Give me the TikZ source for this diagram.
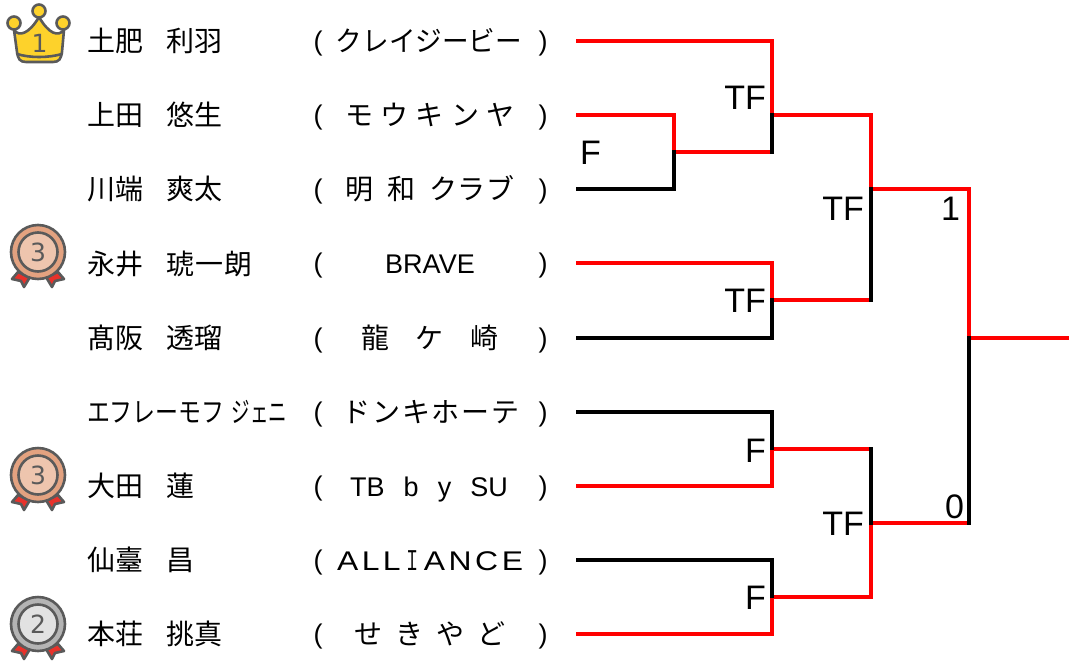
\documentclass[tikz,border=0pt]{standalone}
\usepackage{fontspec}
\usepackage{graphicx}
\setmainfont{Liberation Sans}
\newfontfamily\jp{Noto Sans CJK JP}
\newfontfamily\digitfont{DejaVu Sans}
\usetikzlibrary{calc}
\definecolor{outl}{HTML}{5A5A5A}
\definecolor{gold}{HTML}{FDD22B}
\definecolor{bronzeA}{HTML}{E3A280}
\definecolor{bronzeB}{HTML}{EEC5AE}
\definecolor{silverA}{HTML}{B4B4B4}
\definecolor{silverB}{HTML}{E2E2E2}
\definecolor{ribbon}{HTML}{E8322B}
\tikzset{
  x=1pt,y=-1pt,
  redline/.style={draw=red,line width=4pt,line cap=butt,line join=miter},
  blackline/.style={draw=black,line width=4pt,line cap=butt,line join=miter},
  playername/.style={anchor=base west,inner sep=0pt,outer sep=0pt,font=\jp\fontsize{28}{28}\selectfont},
  teamname/.style={anchor=base,inner sep=0pt,outer sep=0pt,font=\jp\fontsize{28}{28}\selectfont},
  latinteam/.style={anchor=base,inner sep=0pt,outer sep=0pt,font=\fontsize{27}{27}\selectfont},
  paren/.style={anchor=base,inner sep=0pt,outer sep=0pt,font=\fontsize{27}{27}\selectfont},
  score/.style={anchor=base east,inner sep=0pt,outer sep=0pt,font=\fontsize{34}{34}\selectfont},
  iconline/.style={draw=outl,line width=2.6pt,line join=round,line cap=round},
  icondigit/.style={inner sep=0pt,text=outl,font=\digitfont\fontsize{25}{25}\selectfont},
}
\newcommand{\spreadbox}[2]{\makebox[#1pt][s]{#2}}
\newcommand{\wideletter}[1]{\scalebox{1.18}[1]{#1}}
\newcommand{\medal}[6]{%
  \begin{scope}[shift={(#2,#3)}]
    \path[iconline,fill=ribbon] (-20,20) -- (-26,27) -- (-17,29) -- (-14,35) -- (-8,25) -- cycle;
    \path[iconline,fill=ribbon] (20,20) -- (26,27) -- (17,29) -- (14,35) -- (8,25) -- cycle;
    \node[circle,iconline,fill=#4,minimum size=54pt,inner sep=0pt] (#1o) at (0,0) {};
    \node[circle,iconline,fill=#5,minimum size=39pt,inner sep=0pt] (#1i) at (0,0) {};
    \node[icondigit] (#1d) at (0,0) {#6};
  \end{scope}}
\begin{document}
\begin{tikzpicture}
\useasboundingbox (0,0) rectangle (1069,662);
% crown
\path[iconline,fill=gold] (14,30) .. controls (19,37) and (29,34) .. (39,17) .. controls (49,34) and (58,37) .. (64,30) -- (62,52) .. controls (61,59) and (59,62) .. (53,62) -- (26,62) .. controls (20,62) and (18,59) .. (17,52) -- cycle;
\path[iconline] (17,54) .. controls (30,58) and (48,58) .. (62,54);
\node[circle,iconline,fill=gold,minimum size=13pt,inner sep=0pt] (ballL) at (14,23) {};
\node[circle,iconline,fill=gold,minimum size=13pt,inner sep=0pt] (ballM) at (39,11) {};
\node[circle,iconline,fill=gold,minimum size=13pt,inner sep=0pt] (ballR) at (63,23) {};
\node[icondigit] (crownd) at (39.5,43) {1};
\medal{mA}{38}{252}{bronzeA}{bronzeB}{3}
\medal{mB}{38}{475}{bronzeA}{bronzeB}{3}
\medal{mC}{38}{624}{silverA}{silverB}{2}
% players
\node[playername] (p1) at (87,51) {土肥\hspace{24pt}利羽};
\node[playername] (p2) at (87,125) {上田\hspace{24pt}悠生};
\node[playername] (p3) at (87,199) {川端\hspace{24pt}爽太};
\node[playername] (p4) at (87,274) {永井\hspace{24pt}琥\hspace{1pt}一\hspace{1pt}朗};
\node[playername] (p5) at (87,348) {髙阪\hspace{24pt}透瑠};
\node[playername] (p6) at (87,422) {\scalebox{.82}[1]{エフレーモフ}\hspace{7pt}\scalebox{.66}[1]{ジェニ}};
\node[playername] (p7) at (87,496) {大田\hspace{24pt}蓮};
\node[playername] (p8) at (87,570) {仙臺\hspace{24pt}昌};
\node[playername] (p9) at (87,644) {本荘\hspace{24pt}挑真};
% teams
\foreach \i/\y in {a/41,b/115,c/189,d/263,e/338,f/412,g/486,h/560,i/634}{
  \node[paren] (ol\i) at (318,\y+9) {(};
  \node[paren] (cl\i) at (543,\y+9) {)};
}
\node[teamname] (t1) at (429,51) {\scalebox{.95}[1]{クレイジービー}};
\node[teamname] (t2) at (430,125) {\spreadbox{170}{モ\hfill ウ\hfill キ\hfill ン\hfill ヤ}};
\node[teamname] (t3) at (430,199) {明\hspace{14pt}和\hspace{14pt}ク\hspace{1pt}ラ\hspace{1pt}ブ};
\node[latinteam] (t4) at (430,273) {BRAVE};
\node[teamname] (t5) at (430,348) {\spreadbox{138}{龍\hfill ケ\hfill 崎}};
\node[teamname] (t6) at (431,422) {\spreadbox{177}{ド\hfill ン\hfill キ\hfill ホ\hfill ー\hfill テ}};
\node[latinteam] (t7) at (429,496) {\spreadbox{158}{TB\hfill b\hfill y\hfill SU}};
\node[latinteam] (t8) at (430,570) {\spreadbox{186}{\wideletter{A}\hfill \wideletter{L}\hfill \wideletter{L}\hfill {\jp\scalebox{.6}[1]{Ｉ}}\hfill \wideletter{A}\hfill \wideletter{N}\hfill \wideletter{C}\hfill \wideletter{E}}};
\node[teamname] (t9) at (430,644) {\spreadbox{151}{せ\hfill き\hfill や\hfill ど}};
% bracket coordinates
\coordinate (s1) at (576,41); \coordinate (s2) at (576,115); \coordinate (s3) at (576,189);
\coordinate (s4) at (576,263); \coordinate (s5) at (576,338); \coordinate (s6) at (576,412);
\coordinate (s7) at (576,486); \coordinate (s8) at (576,560); \coordinate (s9) at (576,634);
\coordinate (a1) at (772,41); \coordinate (a2) at (674,115); \coordinate (a3) at (674,189);
\coordinate (am) at (674,152);
\coordinate (b1) at (772,115); \coordinate (b2) at (772,152);
\coordinate (c1) at (772,263); \coordinate (c2) at (772,300); \coordinate (c3) at (772,338);
\coordinate (d1) at (772,412); \coordinate (d2) at (772,449); \coordinate (d3) at (772,486);
\coordinate (e1) at (772,560); \coordinate (e2) at (772,597); \coordinate (e3) at (772,634);
\coordinate (f1) at (871,115); \coordinate (f2) at (871,189); \coordinate (f3) at (871,300);
\coordinate (g1) at (871,449); \coordinate (g2) at (871,523); \coordinate (g3) at (871,597);
\coordinate (h1) at (969,189); \coordinate (h2) at (969,338); \coordinate (h3) at (969,523);
\coordinate (out) at (1069,338);
% red
\draw[redline] (s1) -- (a1) -- (b1);
\draw[redline] (s2) -- (a2) -- (am);
\draw[redline] (am) -- (b2);
\draw[redline] (b1) -- (f1) -- (f2);
\draw[redline] (f2) -- (h1) -- (h2);
\draw[redline] (h2) -- (out);
\draw[redline] (s4) -- (c1) -- (c2);
\draw[redline] (c2) -- (f3);
\draw[redline] (s7) -- (d3) -- (d2);
\draw[redline] (d2) -- (g1);
\draw[redline] (e2) -- (g3) -- (g2);
\draw[redline] (s9) -- (e3) -- (e2);
\draw[redline] (g2) -- (h3);
% black
\draw[blackline] (s3) -- (a3) -- ([yshift=2pt]am);
\draw[blackline] ([yshift=2pt]b1) -- ([yshift=-2pt]b2);
\draw[blackline] ([yshift=2pt]c2) -- (c3) -- (s5);
\draw[blackline] ([yshift=2pt]f2) -- ([yshift=-2pt]f3);
\draw[blackline] (s6) -- (d1) -- ([yshift=-1pt]d2);
\draw[blackline] (s8) -- (e1) -- ([yshift=-1pt]e2);
\draw[blackline] ([yshift=2pt]h2) -- ([yshift=-2pt]h3);
\draw[blackline] ([yshift=2pt]g1) -- ([yshift=-2pt]g2);
% scores
\node[score] (l1) at (766,109) {TF};
\node[score] (l2) at (601,164) {F};
\node[score] (l3) at (864,220) {TF};
\node[score] (l4) at (960,220) {1};
\node[score] (l5) at (766,312) {TF};
\node[score] (l6) at (766,462) {F};
\node[score] (l7) at (964,518) {0};
\node[score] (l8) at (864,535) {TF};
\node[score] (l9) at (766,609) {F};
\end{tikzpicture}
\end{document}
